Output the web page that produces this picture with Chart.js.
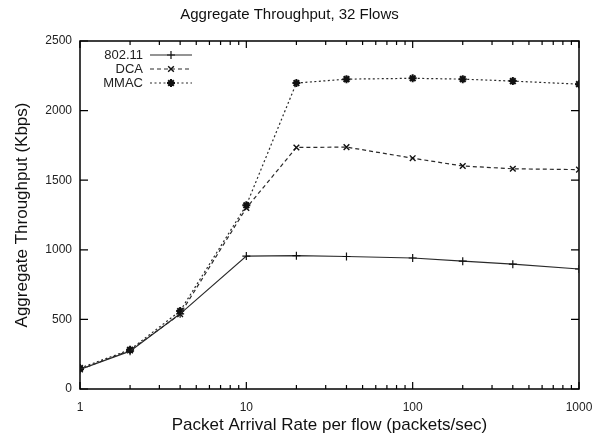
<!DOCTYPE html>
<html><head><meta charset="utf-8">
<script src="https://cdn.jsdelivr.net/npm/chart.js@4.4.1/dist/chart.umd.min.js"></script>
<style>html,body{margin:0;padding:0;background:#fff;}#wrap{width:595px;height:438px;}</style>
</head><body><div id="wrap"><canvas id="c" width="595" height="438"></canvas></div>
<script>
const rates = [1, 2, 4, 10, 20, 40, 100, 200, 400, 1000];
const s80211 = [140, 272, 540, 955, 958, 952, 941, 918, 897, 862];
const sDCA   = [140, 278, 538, 1300, 1735, 1738, 1658, 1602, 1582, 1576];
const sMMAC  = [150, 282, 560, 1320, 2198, 2226, 2232, 2226, 2212, 2190];
const seriesNames = ['802.11', 'DCA', 'MMAC'];
const xMajor = [1, 10, 100, 1000];
const xTickVals = [1,2,3,4,5,6,7,8,9,10,20,30,40,50,60,70,80,90,100,200,300,400,500,600,700,800,900,1000];
const yTickVals = [0, 500, 1000, 1500, 2000, 2500];

const FONT = "'Liberation Sans', Arial, sans-serif";
const toPts = arr => arr.map((v, i) => ({x: rates[i], y: v}));

const styles = [
  {dash: [], pt: 'cross', r: 4, pw: 1.2},
  {dash: [4, 3], pt: 'crossRot', r: 4, pw: 1.4},
  {dash: [2, 2.5], pt: 'star', r: 4, pw: 2}
];
const series = [s80211, sDCA, sMMAC];

const datasets = series.map((s, i) => ({
  label: seriesNames[i],
  data: toPts(s),
  borderColor: '#2a2a2a',
  borderWidth: 1.2,
  borderDash: styles[i].dash,
  pointStyle: styles[i].pt,
  pointRadius: styles[i].r,
  pointBorderWidth: styles[i].pw,
  pointBorderColor: '#111',
  pointBackgroundColor: '#111',
  fill: false,
  tension: 0
}));

const framePlugin = {
  id: 'frame',
  beforeDatasetsDraw(chart) {
    const {ctx, chartArea: a, scales: {x, y}} = chart;
    ctx.save();
    ctx.strokeStyle = '#000';
    ctx.lineWidth = 1.5;
    ctx.strokeRect(a.left, a.top, a.right - a.left, a.bottom - a.top);
    ctx.lineWidth = 1.2;
    ctx.beginPath();
    xTickVals.forEach(v => {
      const px = x.getPixelForValue(v);
      const len = xMajor.includes(v) ? 7 : 4;
      ctx.moveTo(px, a.bottom); ctx.lineTo(px, a.bottom - len);
      ctx.moveTo(px, a.top); ctx.lineTo(px, a.top + len);
    });
    yTickVals.forEach(v => {
      const py = y.getPixelForValue(v);
      ctx.moveTo(a.left, py); ctx.lineTo(a.left + 8, py);
      ctx.moveTo(a.right, py); ctx.lineTo(a.right - 8, py);
    });
    ctx.stroke();
    ctx.restore();
  },
  afterDatasetsDraw(chart) {
    const {ctx, chartArea: a} = chart;
    ctx.save();
    ctx.font = '13px ' + FONT;
    ctx.fillStyle = '#222';
    ctx.textAlign = 'right';
    ctx.textBaseline = 'middle';
    chart.data.datasets.forEach((ds, i) => {
      const yy = a.top + 14 + i * 14;
      ctx.fillText(ds.label, a.left + 63, yy);
      ctx.save();
      ctx.strokeStyle = ds.borderColor;
      ctx.lineWidth = ds.borderWidth;
      ctx.setLineDash(ds.borderDash);
      ctx.beginPath();
      ctx.moveTo(a.left + 70, yy); ctx.lineTo(a.left + 112, yy);
      ctx.stroke();
      ctx.restore();
      ctx.save();
      ctx.strokeStyle = ds.pointBorderColor;
      ctx.fillStyle = ds.pointBackgroundColor;
      ctx.lineWidth = ds.pointBorderWidth;
      Chart.helpers.drawPoint(ctx, {pointStyle: ds.pointStyle, radius: ds.pointRadius, rotation: 0, borderWidth: ds.pointBorderWidth}, a.left + 91, yy);
      ctx.restore();
    });
    ctx.restore();
  }
};

new Chart(document.getElementById('c'), {
  type: 'line',
  data: {datasets},
  options: {
    responsive: false,
    animation: false,
    devicePixelRatio: 1,
    layout: {padding: {left: 0, right: 16, top: 0, bottom: 0}},
    plugins: {
      legend: {display: false},
      tooltip: {enabled: false},
      title: {
        display: true,
        text: 'Aggregate Throughput, 32 Flows',
        color: '#111',
        font: {family: FONT, size: 15, weight: 'normal'},
        padding: {top: 6, bottom: 17}
      }
    },
    scales: {
      x: {
        type: 'logarithmic',
        min: 1, max: 1000,
        afterBuildTicks(scale) { scale.ticks = xTickVals.map(v => ({value: v})); },
        afterFit(scale) { scale.height = 49; scale.paddingRight = 0; scale.paddingLeft = 0; },
        grid: {display: false, drawTicks: false},
        border: {display: false},
        ticks: {
          autoSkip: false, maxRotation: 0, padding: 11,
          color: '#222', font: {family: FONT, size: 12},
          callback: v => xMajor.includes(v) ? String(v) : ''
        },
        title: {
          display: true,
          text: 'Packet Arrival Rate per flow (packets/sec)',
          color: '#111',
          font: {family: FONT, size: 17},
          padding: {top: 0, bottom: 2}
        }
      },
      y: {
        min: 0, max: 2500,
        afterBuildTicks(scale) { scale.ticks = yTickVals.map(v => ({value: v})); },
        afterFit(scale) { scale.width = 80; },
        grid: {display: false, drawTicks: false},
        border: {display: false},
        ticks: {padding: 8, color: '#222', font: {family: FONT, size: 12}, callback: v => String(v)},
        title: {
          display: true,
          text: 'Aggregate Throughput (Kbps)',
          color: '#111',
          font: {family: FONT, size: 17},
          padding: {top: 12, bottom: 0}
        }
      }
    }
  },
  plugins: [framePlugin]
});
</script></body></html>
